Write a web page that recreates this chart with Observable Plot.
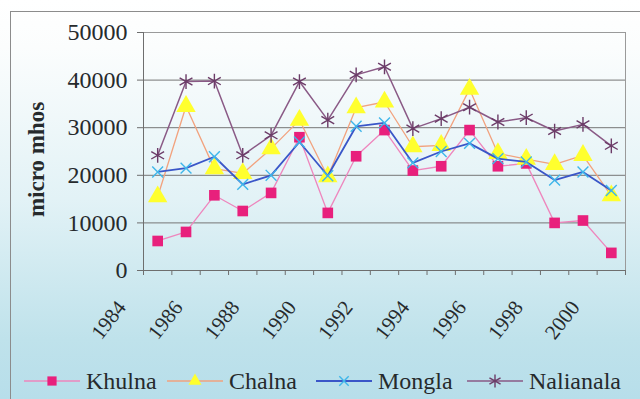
<!DOCTYPE html>
<html>
<head>
<meta charset="utf-8">
<script src="https://cdn.jsdelivr.net/npm/d3@7"></script>
<script src="https://cdn.jsdelivr.net/npm/@observablehq/plot@0.6"></script>
<style>
  body { margin: 0; }
  #chart {
    position: relative; width: 640px; height: 399px; overflow: hidden;
    background: linear-gradient(180deg, #ffffff 0%, #fbfdfd 12%, #e2f2f6 50%, #bfe2eb 85%, #b7deea 100%);
    font-family: "Liberation Serif", "Times New Roman", serif; color: #262a2c;
  }
  #frame { position: absolute; left: 10px; top: 11px; width: 700px; height: 500px; border: 1.5px solid #8c8c8c; }
  #plot { position: absolute; left: 0; top: 0; }
  #legend { position: absolute; left: 0; top: 362px; width: 640px; height: 38px; }
  .item { position: absolute; top: 0; height: 38px; display: flex; align-items: center; font-size: 24px; }
  .item svg { margin-right: 6px; }
</style>
</head>
<body>
<div id="chart">
  <div id="frame"></div>
  <div id="plot"></div>
  <div id="legend"></div>
</div>
<script>
// Electrical conductivity of river water by station, 1984–2000 (micro mhos)
const years = [1984, 1985, 1986, 1987, 1988, 1989, 1990, 1991, 1992, 1993, 1994, 1995, 1996, 1997, 1998, 1999, 2000];
const yearLabels = [1984, 1986, 1988, 1990, 1992, 1994, 1996, 1998, 2000];
const yTicks = [0, 10000, 20000, 30000, 40000, 50000];

const stations = ["Khulna", "Chalna", "Mongla", "Nalianala"];
const khulna    = [6200, 8100, 15800, 12500, 16300, 28000, 12100, 24000, 29500, 21000, 21900, 29500, 21900, 22500, 10000, 10500, 3700];
const chalna    = [15500, 34500, 21400, 20400, 25600, 31600, 19700, 34200, 35400, 26000, 26300, 38100, 24600, 23400, 22300, 24200, 15700];
const mongla    = [20700, 21500, 23900, 18100, 20000, 27000, 19900, 30300, 31000, 22600, 25000, 26700, 23500, 22800, 19000, 20700, 16800];
const nalianala = [24200, 39700, 39800, 24200, 28400, 39700, 31600, 41100, 42800, 29800, 31900, 34300, 31200, 32100, 29300, 30700, 26200];
const seriesValues = [khulna, chalna, mongla, nalianala];

// Look of each series: line colour, marker shape and marker colour
const looks = {
  Khulna:    {line: "#ee86bd", width: 1.3, symbol: "square",   r: 6.0, fill: "#e8207c", stroke: "none", sw: 0},
  Chalna:    {line: "#f2a27e", width: 1.3, symbol: "triangle", r: 7.2, fill: "#ffff2e", stroke: "none", sw: 0},
  Mongla:    {line: "#3a56c8", width: 1.8, symbol: "times",    r: 5.0, fill: "none",    stroke: "#3fb6ea", sw: 1.4},
  Nalianala: {line: "#8a5a86", width: 1.5, symbol: "asterisk", r: 7.0, fill: "none",    stroke: "#6c3c68", sw: 1.4}
};

const rows = [];
stations.forEach((name, s) => years.forEach((year, i) => rows.push({station: name, year, value: seriesValues[s][i]})));

// Category boundaries, where the x-axis tick marks sit
const boundaries = d3.range(years[0] - 0.5, years[years.length - 1] + 1, 1);

const seriesMarks = stations.flatMap(name => {
  const lk = looks[name];
  const data = rows.filter(d => d.station === name);
  return [
    Plot.line(data, {x: "year", y: "value", stroke: lk.line, strokeWidth: lk.width}),
    Plot.dot(data, {x: "year", y: "value", symbol: () => lk.symbol, r: lk.r, fill: lk.fill, stroke: lk.stroke, strokeWidth: lk.sw})
  ];
});

const chart = Plot.plot({
  width: 640, height: 362,
  marginLeft: 143, marginRight: 15, marginTop: 32, marginBottom: 92,
  style: {background: "transparent", fontFamily: "Liberation Serif, Times New Roman, serif", color: "#262a2c", overflow: "visible"},
  x: {domain: [years[0] - 0.5, years[years.length - 1] + 0.5]},
  y: {domain: [0, 50000]},
  symbol: {type: "identity"},
  marks: [
    Plot.gridY(yTicks, {stroke: "#767676", strokeOpacity: 1, strokeWidth: 1}),
    Plot.frame({stroke: "#9a9a9a", strokeWidth: 1}),
    Plot.ruleX([years[0] - 0.5], {stroke: "#6e6e6e"}),
    Plot.ruleY([0], {stroke: "#6e6e6e"}),
    Plot.axisY(yTicks, {tickSize: 6, tickPadding: 10, fontSize: 24, stroke: "#6e6e6e", tickFormat: d => String(d), label: null}),
    Plot.axisX(boundaries, {tickSize: 5, stroke: "#6e6e6e", tickFormat: () => "", label: null}),
    Plot.axisX(yearLabels, {tickSize: 0, tickPadding: 33, tickRotate: -52, fontSize: 21, dx: -36, tickFormat: d => String(d), label: null}),
    ...seriesMarks,
    Plot.text(["micro mhos"], {text: d => d, frameAnchor: "left", textAnchor: "middle", rotate: -90, dx: -107, dy: 8, fontSize: 23, fontWeight: "bold"})
  ]
});
document.getElementById("plot").appendChild(chart);

// Legend: line-and-marker swatch followed by the station name
const legendLeft = [24, 167, 316, 467];
const legend = d3.select("#legend");
stations.forEach((name, s) => {
  const lk = looks[name];
  const item = legend.append("div").attr("class", "item").style("left", legendLeft[s] + "px");
  const sw = item.append("svg").attr("width", 56).attr("height", 20);
  sw.append("line").attr("x1", 0).attr("x2", 56).attr("y1", 10).attr("y2", 10)
    .attr("stroke", lk.line).attr("stroke-width", lk.width);
  const symType = {square: d3.symbolSquare, triangle: d3.symbolTriangle2, times: d3.symbolTimes, asterisk: d3.symbolAsterisk}[lk.symbol];
  sw.append("path").attr("transform", "translate(28,10)")
    .attr("d", d3.symbol(symType, Math.PI * lk.r * lk.r * 0.75)())
    .attr("fill", lk.fill).attr("stroke", lk.stroke).attr("stroke-width", lk.sw);
  item.append("span").text(name);
});
</script>
</body>
</html>
